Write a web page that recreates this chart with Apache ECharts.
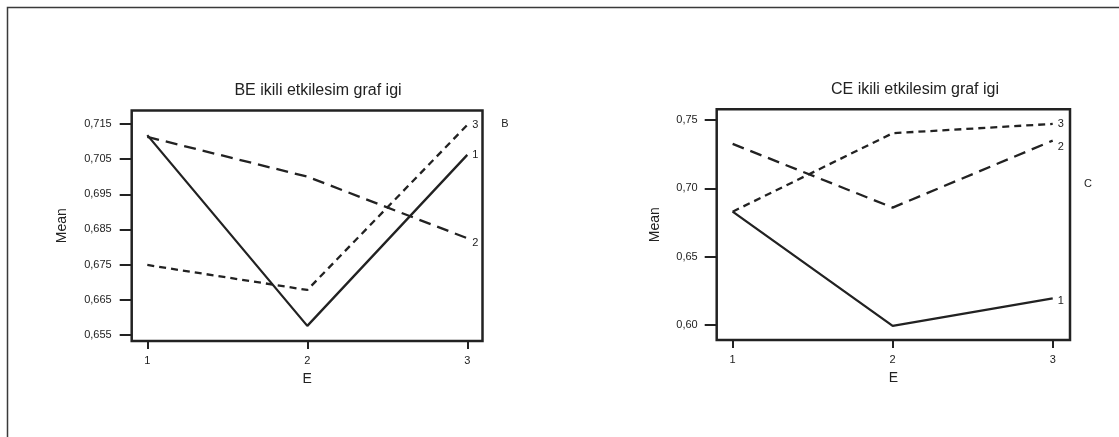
<!DOCTYPE html>
<html>
<head>
<meta charset="utf-8">
<script src="https://cdn.jsdelivr.net/npm/echarts@6/dist/echarts.min.js"></script>
<style>
html,body{margin:0;padding:0;background:#fff;}
#chart{width:1119px;height:437px;}
</style>
</head>
<body>
<div id="chart"></div>
<script>
// Categories (factor E levels)
const eLevels = [1, 2, 3];
// BE interaction: means for B = 1, 2, 3
const beSeries1 = [0.7118, 0.6576, 0.7062];
const beSeries2 = [0.7113, 0.7000, 0.6825];
const beSeries3 = [0.6749, 0.6678, 0.7147];
// CE interaction: means for C = 1, 2, 3
const ceSeries1 = [0.6829, 0.5993, 0.6195];
const ceSeries2 = [0.7325, 0.6859, 0.7349];
const ceSeries3 = [0.6829, 0.7403, 0.7471];
// Tick labels
const beTicks = [0.655, 0.665, 0.675, 0.685, 0.695, 0.705, 0.715];
const ceTicks = [0.60, 0.65, 0.70, 0.75];
const seriesNames = ['1', '2', '3'];
const titles = ['BE ikili etkilesim graf igi', 'CE ikili etkilesim graf igi'];
const factorNames = ['B', 'C'];

const FONT = 'Arial, "Liberation Sans", sans-serif';
const INK = '#222222';
const dashes = ['solid', [12, 7], [7, 5]];

function pts(vals) { return eLevels.map((e, i) => [e, vals[i]]); }
function comma(d) { return v => v.toFixed(d).replace('.', ','); }

function mkSeries(gi, vals, k, labelOffset) {
  return {
    type: 'line', name: seriesNames[k], xAxisIndex: gi, yAxisIndex: gi,
    data: pts(vals), showSymbol: false, symbol: 'none', silent: true,
    lineStyle: { color: INK, width: 2.3, type: dashes[k] },
    endLabel: { show: true, formatter: seriesNames[k], distance: 5,
      offset: labelOffset || [0, 0],
      color: INK, fontSize: 11, fontFamily: FONT },
    animation: false
  };
}

const xAxisCommon = {
  type: 'value', min: 0.9025, max: 3.095,
  axisLine: { show: false }, splitLine: { show: false },
  axisTick: { show: true, customValues: eLevels, length: 8, lineStyle: { color: INK, width: 2 } },
  axisLabel: { customValues: eLevels, margin: 14, color: INK, fontSize: 11, fontFamily: FONT },
  name: 'E', nameLocation: 'middle', nameGap: 31,
  nameTextStyle: { color: INK, fontSize: 14, fontFamily: FONT }
};

const option = {
  backgroundColor: '#ffffff',
  animation: false,
  title: [
    { text: titles[0], left: 318, top: 83, textAlign: 'center', padding: 0,
      textStyle: { color: INK, fontSize: 16, fontWeight: 'normal', fontFamily: FONT } },
    { text: titles[1], left: 915, top: 82, textAlign: 'center', padding: 0,
      textStyle: { color: INK, fontSize: 16, fontWeight: 'normal', fontFamily: FONT } }
  ],
  grid: [
    { left: 131.7, top: 110.5, width: 350.8, height: 230.5, show: true,
      borderColor: INK, borderWidth: 2.5, backgroundColor: 'transparent' },
    { left: 716.7, top: 109.3, width: 353.3, height: 230.7, show: true,
      borderColor: INK, borderWidth: 2.5, backgroundColor: 'transparent' }
  ],
  xAxis: [
    Object.assign({}, xAxisCommon, { gridIndex: 0 }),
    Object.assign({}, xAxisCommon, { gridIndex: 1, min: 0.9004, max: 3.108 })
  ],
  yAxis: [
    { type: 'value', gridIndex: 0, min: 0.6533, max: 0.7188,
      axisLine: { show: false }, splitLine: { show: false },
      axisTick: { show: true, customValues: beTicks, length: 12, lineStyle: { color: INK, width: 2 } },
      axisLabel: { customValues: beTicks, formatter: comma(3), margin: 20, color: INK, fontSize: 11, fontFamily: FONT },
      name: 'Mean', nameLocation: 'middle', nameGap: 63,
      nameTextStyle: { color: INK, fontSize: 14, fontFamily: FONT } },
    { type: 'value', gridIndex: 1, min: 0.589, max: 0.7578,
      axisLine: { show: false }, splitLine: { show: false },
      axisTick: { show: true, customValues: ceTicks, length: 12, lineStyle: { color: INK, width: 2 } },
      axisLabel: { customValues: ceTicks, formatter: comma(2), margin: 19, color: INK, fontSize: 11, fontFamily: FONT },
      name: 'Mean', nameLocation: 'middle', nameGap: 55,
      nameTextStyle: { color: INK, fontSize: 14, fontFamily: FONT } }
  ],
  graphic: [
    { type: 'rect', left: 5, top: 5, shape: { width: 1300, height: 600 },
      style: { fill: 'none', stroke: '#3a3a3a', lineWidth: 1.5 }, silent: true },
    { type: 'text', x: 505, y: 124, style: { text: factorNames[0], fill: INK, fontSize: 11,
      fontFamily: FONT, align: 'center', verticalAlign: 'middle' } },
    { type: 'text', x: 1088, y: 184, style: { text: factorNames[1], fill: INK, fontSize: 11,
      fontFamily: FONT, align: 'center', verticalAlign: 'middle' } }
  ],
  series: [
    mkSeries(0, beSeries1, 0), mkSeries(0, beSeries2, 1, [0, 5]), mkSeries(0, beSeries3, 2),
    mkSeries(1, ceSeries1, 0, [0, 3]), mkSeries(1, ceSeries2, 1, [0, 6]), mkSeries(1, ceSeries3, 2)
  ]
};

const chart = echarts.init(document.getElementById('chart'), null, { renderer: 'canvas' });
chart.setOption(option);
</script>
</body>
</html>
